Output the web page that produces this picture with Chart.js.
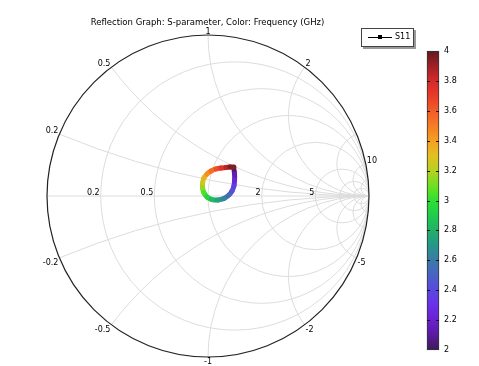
<!DOCTYPE html>
<html lang="en">
<head>
  <meta charset="UTF-8">
  <title>Reflection Graph</title>
  <script src="https://cdn.jsdelivr.net/npm/chart.js"></script>
  <style>
    body { margin: 0; background: #fff; font-family: "DejaVu Sans", sans-serif; }
    .wrap { position: relative; width: 479px; height: 366px; overflow: hidden; }
    #smith { position: absolute; left: 0; top: 0; }
    #cbar { position: absolute; left: 420px; top: 40px; }
    .title { position: absolute; left: 0; width: 415px; top: 17px; text-align: center; font-size: 8.5px; color: #000; }
    .legend { position: absolute; left: 361px; top: 28px; width: 51px; height: 17px; border: 1px solid #444;
              background: #fff; box-shadow: 2px 2px 0 #9a9a9a; font-size: 8px; }
    .legend .ln { position: absolute; left: 6px; top: 8px; width: 24px; border-top: 1px solid #000; }
    .legend .mk { position: absolute; left: 16px; top: 6px; width: 4px; height: 4px; background: #000; }
    .legend .tx { position: absolute; left: 33px; top: 3px; }
  </style>
</head>
<body>
<div class="wrap">
  <canvas id="smith" width="479" height="366"></canvas>
  <canvas id="cbar" width="59" height="320"></canvas>
  <div class="title">Reflection Graph: S-parameter, Color: Frequency (GHz)</div>
  <div class="legend"><span class="ln"></span><span class="mk"></span><span class="tx">S11</span></div>
</div>

<script>
  // S11, 2 to 4 GHz
  const freqGHz = [2.0, 2.1, 2.2, 2.3, 2.4, 2.5, 2.6, 2.7, 2.8, 2.9, 3.0,
                   3.1, 3.2, 3.3, 3.4, 3.5, 3.6, 3.7, 3.8, 3.9, 4.0];
  const s11Re = [0.161, 0.165, 0.165, 0.161, 0.149, 0.130, 0.099, 0.062, 0.025, -0.006, -0.025,
                 -0.034, -0.034, -0.025, -0.006, 0.019, 0.050, 0.081, 0.112, 0.137, 0.161];
  const s11Im = [0.168, 0.137, 0.099, 0.062, 0.031, 0.006, -0.016, -0.025, -0.022, -0.006, 0.019,
                 0.050, 0.081, 0.112, 0.137, 0.155, 0.168, 0.174, 0.177, 0.180, 0.180];

  // smith grid
  const resistanceGrid = [0.2, 0.5, 1, 2, 5, 10, 20];
  const reactanceGrid = [0.2, 0.5, 1, 2, 5, 10, 20];
  const resistanceLabels = [0.2, 0.5, 2, 5];
  const reactanceLabels = [0.2, 0.5, 1, 2, 10, -0.2, -0.5, -1, -2, -5];

  // colorbar
  const cbarTicks = [2, 2.2, 2.4, 2.6, 2.8, 3, 3.2, 3.4, 3.6, 3.8, 4];

  const rainbow = [
    [2.0, '#3e1a55'], [2.1, '#5a1aa0'], [2.2, '#6a20d0'], [2.3, '#6a30e8'], [2.4, '#5a48e0'],
    [2.5, '#4a62c4'], [2.6, '#3a7aa8'], [2.7, '#25978a'], [2.8, '#20b068'], [2.9, '#20cc4c'],
    [3.0, '#2ee030'], [3.1, '#70e020'], [3.2, '#b8d020'], [3.3, '#e2c020'], [3.4, '#f5a020'],
    [3.5, '#f57c25'], [3.6, '#f25c28'], [3.7, '#e83c28'], [3.8, '#d42a2a'], [3.9, '#a02028'],
    [4.0, '#5e1a1e']
  ];

  function hexRgb(h) {
    return [parseInt(h.slice(1, 3), 16), parseInt(h.slice(3, 5), 16), parseInt(h.slice(5, 7), 16)];
  }
  function colorAt(f) {
    if (f <= rainbow[0][0]) return rainbow[0][1];
    for (let i = 1; i < rainbow.length; i++) {
      if (f <= rainbow[i][0]) {
        const t = (f - rainbow[i - 1][0]) / (rainbow[i][0] - rainbow[i - 1][0]);
        const a = hexRgb(rainbow[i - 1][1]), b = hexRgb(rainbow[i][1]);
        const c = a.map((v, k) => Math.round(v + (b[k] - v) * t));
        return `rgb(${c[0]},${c[1]},${c[2]})`;
      }
    }
    return rainbow[rainbow.length - 1][1];
  }

  const smithGrid = {
    id: 'smithGrid',
    beforeDatasetsDraw(chart) {
      const { ctx, scales: { x, y } } = chart;
      const px = v => x.getPixelForValue(v);
      const py = v => y.getPixelForValue(v);
      const R = px(1) - px(0);
      ctx.save();
      ctx.beginPath();
      ctx.arc(px(0), py(0), R, 0, Math.PI * 2);
      ctx.clip();
      ctx.strokeStyle = '#dcdcdc';
      ctx.lineWidth = 1;
      resistanceGrid.forEach(r => {
        ctx.beginPath();
        ctx.arc(px(r / (1 + r)), py(0), R / (1 + r), 0, Math.PI * 2);
        ctx.stroke();
      });
      reactanceGrid.forEach(xv => {
        [xv, -xv].forEach(s => {
          ctx.beginPath();
          ctx.arc(px(1), py(1 / s), R / Math.abs(s), 0, Math.PI * 2);
          ctx.stroke();
        });
      });
      ctx.beginPath();
      ctx.moveTo(px(-1), py(0));
      ctx.lineTo(px(1), py(0));
      ctx.stroke();
      ctx.restore();

      ctx.save();
      ctx.strokeStyle = '#222';
      ctx.lineWidth = 1.2;
      ctx.beginPath();
      ctx.arc(px(0), py(0), R, 0, Math.PI * 2);
      ctx.stroke();

      ctx.fillStyle = '#000';
      ctx.font = '8px "DejaVu Sans"';
      ctx.textAlign = 'right';
      ctx.textBaseline = 'alphabetic';
      resistanceLabels.forEach(r => {
        ctx.fillText(String(r), px((r - 1) / (r + 1)) - 1, py(0) - 1);
      });
      reactanceLabels.forEach(xv => {
        const gx = (xv * xv - 1) / (xv * xv + 1);
        const gy = 2 * xv / (xv * xv + 1);
        ctx.textAlign = gx > 0.01 ? 'left' : (gx < -0.01 ? 'right' : 'center');
        ctx.textBaseline = gy > 0 ? 'bottom' : 'top';
        const dx = gx > 0.01 ? 1 : (gx < -0.01 ? -1 : 0);
        ctx.fillText(String(xv), px(gx) + dx, py(gy) + (gy > 0 ? 1 : 1));
      });
      ctx.restore();
    }
  };

  new Chart(document.getElementById('smith'), {
    type: 'scatter',
    data: {
      datasets: [{
        label: 'S11',
        data: freqGHz.map((f, i) => ({ x: s11Re[i], y: s11Im[i] })),
        showLine: true,
        borderWidth: 5,
        borderCapStyle: 'round',
        borderJoinStyle: 'round',
        tension: 0.3,
        pointRadius: 0,
        segment: {
          borderColor: c => colorAt((freqGHz[c.p0DataIndex] + freqGHz[c.p1DataIndex]) / 2)
        }
      }]
    },
    options: {
      responsive: false,
      animation: false,
      layout: { padding: { left: 47, right: 110, top: 35, bottom: 9 } },
      scales: {
        x: { type: 'linear', min: -1, max: 1, display: false },
        y: { type: 'linear', min: -1, max: 1, display: false }
      },
      plugins: { legend: { display: false }, title: { display: false }, tooltip: { enabled: false } }
    },
    plugins: [smithGrid]
  });

  const cbarMarks = {
    id: 'cbarMarks',
    afterDatasetsDraw(chart) {
      const { ctx, chartArea: a, scales: { y } } = chart;
      ctx.save();
      ctx.strokeStyle = '#111';
      ctx.lineWidth = 1;
      cbarTicks.slice(1, -1).forEach(t => {
        const yy = Math.round(y.getPixelForValue(t)) + 0.5;
        ctx.beginPath();
        ctx.moveTo(a.left, yy); ctx.lineTo(a.left + 3, yy);
        ctx.moveTo(a.right - 3, yy); ctx.lineTo(a.right, yy);
        ctx.stroke();
      });
      ctx.restore();
    }
  };

  new Chart(document.getElementById('cbar'), {
    type: 'bar',
    data: {
      labels: ['f'],
      datasets: [{
        data: [[cbarTicks[0], cbarTicks[cbarTicks.length - 1]]],
        backgroundColor: c => {
          const a = c.chart.chartArea;
          if (!a) return '#888';
          const g = c.chart.ctx.createLinearGradient(0, a.bottom, 0, a.top);
          rainbow.forEach(([f, col]) => g.addColorStop((f - 2) / 2, col));
          return g;
        },
        borderColor: '#333',
        borderWidth: 1,
        borderSkipped: false,
        barPercentage: 1,
        categoryPercentage: 1,
        clip: false
      }]
    },
    options: {
      responsive: false,
      animation: false,
      layout: { padding: { left: 7, right: 0, top: 11, bottom: 10 } },
      scales: {
        x: { display: false },
        y: {
          position: 'right',
          min: 2, max: 4,
          afterFit: s => { s.width = 40; },
          afterBuildTicks: s => { s.ticks = cbarTicks.map(v => ({ value: v })); },
          ticks: {
            padding: 5, color: '#000', font: { family: 'DejaVu Sans', size: 8 },
            callback: v => String(Math.round(v * 10) / 10)
          },
          grid: { display: false, drawTicks: false },
          border: { display: false }
        }
      },
      plugins: { legend: { display: false }, tooltip: { enabled: false } }
    },
    plugins: [cbarMarks]
  });
</script>
</body>
</html>
